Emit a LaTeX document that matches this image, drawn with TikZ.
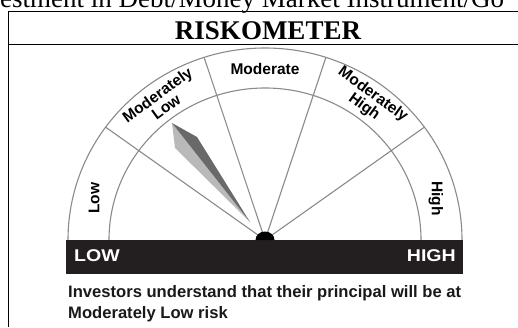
\documentclass[tikz,border=0pt]{standalone}
\usepackage{fontspec}
\setmainfont{Liberation Serif}
\setsansfont{Liberation Sans}
\usetikzlibrary{calc,positioning}

\definecolor{gaugegray}{RGB}{138,138,138}
\definecolor{needlelight}{RGB}{185,185,185}
\definecolor{needledark}{RGB}{105,105,105}
\definecolor{bartone}{RGB}{35,31,32}

\begin{document}
\begin{tikzpicture}[
		x=1pt, y=1pt,
		gaugeline/.style={draw=gaugegray, line width=1.1pt},
		frameline/.style={draw=black, line width=1pt},
		zonelabel/.style={font=\sffamily\bfseries\fontsize{15.5}{15}\selectfont, align=center, inner sep=0pt},
		scalelabel/.style={font=\sffamily\bfseries\fontsize{17}{18}\selectfont, text=white, inner sep=0pt, xscale=1.15},
		note/.style={font=\sffamily\bfseries\fontsize{16.6}{20}\selectfont, text=black!90, inner sep=0pt, anchor=base west},
	]
		\useasboundingbox (0,0) rectangle (518,327);
		\clip (0,0) rectangle (518,327);

		% heading and frame
		\node[anchor=base west, inner sep=0pt, font=\fontsize{27}{30}\selectfont] (header) at (0,319.5) {estment in Debt/Money Market Instrument/Go};
		\draw[frameline] (518,315) -- (8,315) -- (8,0);
		\draw[frameline] (8,282) -- (518,282);
		\node[anchor=base, inner sep=0pt, font=\bfseries\fontsize{27}{30}\selectfont] (title) at (268,287) {RISKOMETER};

		% dial
		\coordinate (c) at (265,87);
		\draw[gaugeline] (c) ++(180:197 and 192) arc[start angle=180, end angle=0, x radius=197, y radius=192];
		\draw[gaugeline] (c) ++(180:156 and 152) arc[start angle=180, end angle=0, x radius=156, y radius=152];
		\foreach \a in {36,72,108,144}
			\draw[gaugeline] (c) -- ++(\a:197 and 192);

		% needle
		\coordinate (tip) at (172,204);
		\coordinate (base) at (250,105);
		\fill[needlelight] (tip) -- (175,179) -- (base) -- cycle;
		\fill[needledark] (tip) -- (197,190) -- (base) -- cycle;

		% scale bar
		\fill[bartone] (66,53) rectangle (463,87);
		\fill[black] (c) ++(9.5,0) arc[start angle=0, end angle=180, x radius=9.5, y radius=8.5] -- cycle;
		\node[scalelabel, anchor=west] (low) at (74,71) {LOW};
		\node[scalelabel, anchor=east] (high) at (456,71) {HIGH};

		% zone names
		\node[zonelabel, rotate=90] (zlow) at ($(c)+(166:176 and 172)$) {Low};
		\node[zonelabel, rotate=36] (zmodlow) at ($(c)+(126:176 and 172)$) {Moderately\\Low};
		\node[zonelabel] (zmod) at ($(c)+(90:176 and 171)$) {Moderate};
		\node[zonelabel, rotate=-36] (zmodhigh) at ($(c)+(54:176 and 172)$) {Moderately\\High};
		\node[zonelabel, rotate=-90] (zhigh) at ($(c)+(14:176 and 172)$) {High};

		% caption
		\node[note] (info1) at (68,30) {Investors understand that their principal will be at};
		\node[note] (info2) at (68,9) {Moderately Low risk};
	\end{tikzpicture}
\end{document}
